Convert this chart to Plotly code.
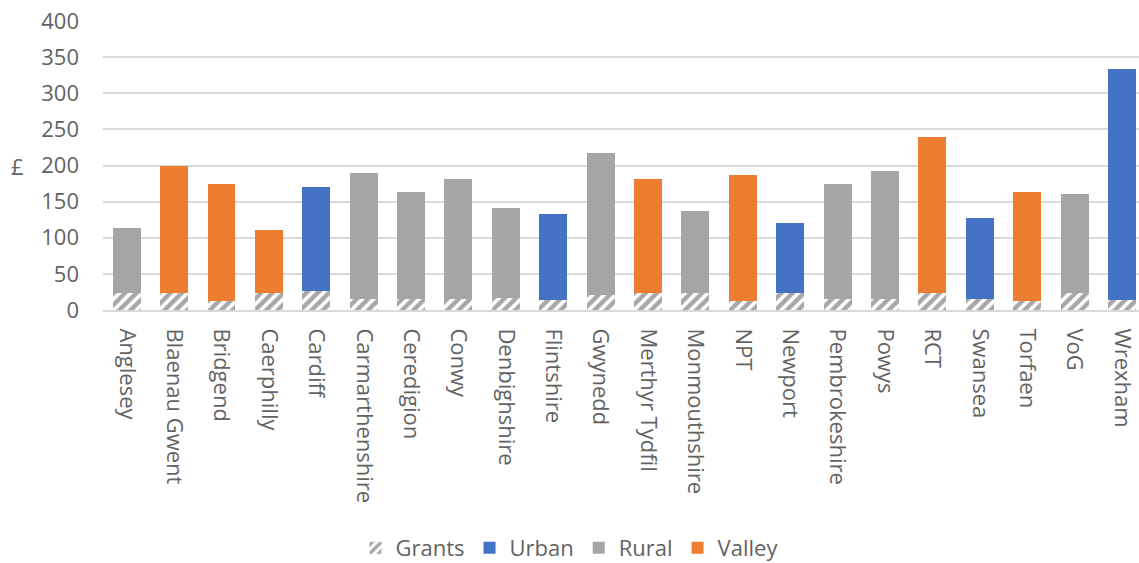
import plotly.graph_objects as go

categories = ["Anglesey", "Blaenau Gwent", "Bridgend", "Caerphilly", "Cardiff",
              "Carmarthenshire", "Ceredigion", "Conwy", "Denbighshire", "Flintshire",
              "Gwynedd", "Merthyr Tydfil", "Monmouthshire", "NPT", "Newport",
              "Pembrokeshire", "Powys", "RCT", "Swansea", "Torfaen", "VoG", "Wrexham"]
area_type = ["Rural", "Valley", "Valley", "Valley", "Urban",
             "Rural", "Rural", "Rural", "Rural", "Urban",
             "Rural", "Valley", "Rural", "Valley", "Urban",
             "Rural", "Rural", "Valley", "Urban", "Valley", "Rural", "Urban"]
totals = [114, 200, 175, 111, 170, 189, 163, 181, 141, 133,
          218, 181, 137, 187, 120, 175, 193, 240, 127, 164, 160, 334]
grants = [24, 24, 12, 23, 26, 15, 15, 15, 17, 14,
          21, 24, 23, 12, 23, 15, 15, 24, 15, 12, 24, 14]
y_ticks = [0, 50, 100, 150, 200, 250, 300, 350, 400]

colors = {"Urban": "#4472C4", "Rural": "#A5A5A5", "Valley": "#ED7D31"}
font_family = "Open Sans, Liberation Sans, sans-serif"
text_grey = "#636363"

fig = go.Figure()
fig.add_trace(go.Bar(
    x=categories, y=grants, name="Grants",
    marker=dict(color="white", line=dict(width=0),
                pattern=dict(shape="/", fgcolor="#505050", bgcolor="white",
                             size=8, solidity=0.55)),
))
for t in ["Urban", "Rural", "Valley"]:
    vals = [(tot - g) if a == t else None for tot, g, a in zip(totals, grants, area_type)]
    fig.add_trace(go.Bar(x=categories, y=vals, name=t,
                         marker=dict(color=colors[t], line=dict(width=0))))

fig.update_layout(
    barmode="stack",
    bargap=0.41,
    width=1139, height=563,
    margin=dict(l=103, r=0, t=21, b=253, autoexpand=False),
    paper_bgcolor="white", plot_bgcolor="white",
    font=dict(family=font_family, color=text_grey),
    showlegend=True,
    legend=dict(orientation="h", x=0.5, xref="container", xanchor="center",
                y=1 - 548 / 563, yref="container", yanchor="middle",
                font=dict(size=22, color=text_grey), traceorder="normal",
                itemwidth=30),
    xaxis=dict(type="category", range=[-0.5, 21.36], tickangle=90,
               tickfont=dict(size=22, color=text_grey), showgrid=False,
               showline=True, linecolor="#d9d9d9", linewidth=2, ticks="",
               ticklabelstandoff=12, automargin=False, fixedrange=True),
    yaxis=dict(range=[0, 400], tickvals=y_ticks, showgrid=True, gridcolor="#d9d9d9",
               gridwidth=2, zeroline=False, tickfont=dict(size=22, color=text_grey),
               ticks="", ticklabelstandoff=23, automargin=False),
)
fig.add_annotation(text="£", xref="paper", yref="y", x=-0.083, y=200, showarrow=False,
                   font=dict(size=22, color=text_grey), xanchor="center")

fig.write_html("out.html")
